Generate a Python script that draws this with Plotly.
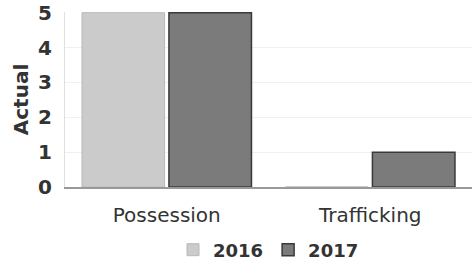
import plotly.graph_objects as go

categories = ["Possession", "Trafficking"]
series_names = ["2016", "2017"]
values_2016 = [5, 0]
values_2017 = [5, 1]
y_ticks = [0, 1, 2, 3, 4, 5]

fig = go.Figure()
fig.add_trace(go.Bar(x=categories, y=values_2016, name=series_names[0],
                     marker=dict(color="#cbcbcb", line=dict(color="#b8b8b8", width=1))))
fig.add_trace(go.Bar(x=categories, y=values_2017, name=series_names[1],
                     marker=dict(color="#7b7b7b", line=dict(color="#3a3a3a", width=1.5))))

fig.update_layout(
    width=473, height=265,
    margin=dict(l=65, r=1, t=12, b=78, autoexpand=False),
    paper_bgcolor="white", plot_bgcolor="white",
    barmode="group", bargap=0.146, bargroupgap=0.05,
    font=dict(family="DejaVu Sans", color="#333333"),
    showlegend=True,
    legend=dict(orientation="h", x=0.5, xanchor="center", y=-0.36, yanchor="middle",
                font=dict(size=18, color="#333333", weight="bold"), itemwidth=30,
                traceorder="normal", tracegroupgap=0),
    xaxis=dict(showline=True, linecolor="#999999", linewidth=1.5, automargin=False,
               tickfont=dict(size=20, color="#333333"), ticks="",
               ticklabelstandoff=9),
    yaxis=dict(range=[0, 5.02], tickvals=y_ticks, showgrid=True, gridcolor="#f0f0f0",
               showline=True, linecolor="#e0e0e0", zeroline=False, ticks="",
               ticklabelstandoff=8, automargin=False,
               tickfont=dict(size=20, color="#333333", weight="bold"),
               title=dict(text="Actual", font=dict(size=20, color="#333333", weight="bold"),
                          standoff=4)),
)

fig.write_html("out.html", config={"displayModeBar": False},
               post_script="document.body.style.margin='0';document.body.style.overflow='hidden';")
